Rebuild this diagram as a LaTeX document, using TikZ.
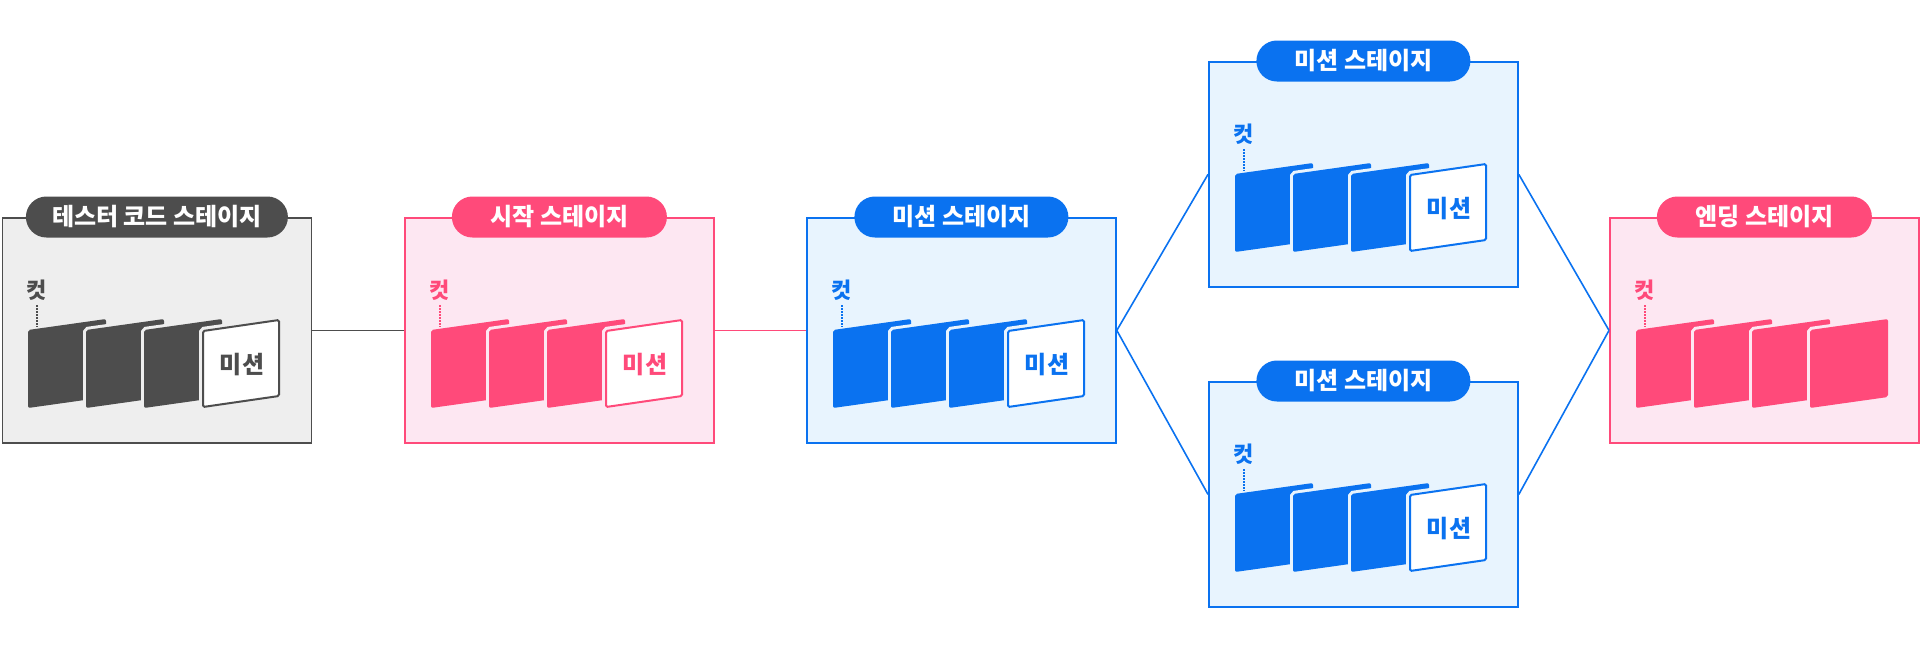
\documentclass[tikz,border=0pt]{standalone}
\usepackage{fontspec}
\newfontfamily\kr{Noto Sans CJK KR}
\definecolor{gdark}{HTML}{4D4D4D}
\definecolor{gbg}{HTML}{EEEEEE}
\definecolor{pk}{HTML}{FF4A7A}
\definecolor{pbg}{HTML}{FDE7F2}
\definecolor{bl}{HTML}{0A72F0}
\definecolor{bbg}{HTML}{E8F4FE}
\tikzset{
  stagebox/.style={draw, line width=1.8, minimum width=309, minimum height=225, anchor=north west, inner sep=0},
  pill/.style={rounded corners=20.5, minimum height=41, inner sep=0, text=white, font=\kr\bfseries\fontsize{24}{24}\selectfont},
  cutlabel/.style={font=\kr\bfseries\fontsize{22}{22}\selectfont, inner sep=0},
  misslabel/.style={font=\kr\bfseries\fontsize{24}{24}\selectfont, inner sep=0},
  link/.style={line width=1.6},
}
% #1 main colour, #2 background colour, #3 = 1 if last card is white
\newcommand{\cardrow}[3]{%
  \foreach \k in {0,1,2,3}{%
    \pgfmathsetmacro{\L}{27+58*\k}%
    \pgfmathsetmacro{\R}{105+58*\k}%
    \draw[#2, line width=6, rounded corners=2] (\L,113) -- (\R,102) -- (\R,180) -- (\L,191) -- cycle;
    \ifnum\k<3
      \fill[#1, rounded corners=2] (\L,113) -- (\R,102) -- (\R,180) -- (\L,191) -- cycle;
    \else
      \ifnum#3=1
        \draw[#1, fill=white, line width=2, rounded corners=1.5] (\L+1,114) -- (\R-1,103) -- (\R-1,179) -- (\L+1,190) -- cycle;
        \node[misslabel, text=#1] at (241,148) {미션};
      \else
        \fill[#1, rounded corners=2] (\L,113) -- (\R,102) -- (\R,180) -- (\L,191) -- cycle;
      \fi
    \fi
  }%
  \node[cutlabel, text=#1] at (36,73) {컷};
  \draw[#1, line width=1.5, dash pattern=on 1.5 off 1.5] (36,88) -- (36,110);
}
\begin{document}
\begin{tikzpicture}[x=1pt, y=-1pt]
\useasboundingbox (0,0) rectangle (1920,648);
% boxes
\node[stagebox, draw=gdark, fill=gbg] (b1) at (1.5,217) {};
\node[stagebox, draw=pk, fill=pbg] (b2) at (404,217) {};
\node[stagebox, draw=bl, fill=bbg] (b3) at (806,217) {};
\node[stagebox, draw=bl, fill=bbg] (b4) at (1208,61) {};
\node[stagebox, draw=bl, fill=bbg] (b5) at (1208,381) {};
\node[stagebox, draw=pk, fill=pbg] (b6) at (1609,217) {};
% connectors
\draw[link, gdark] (b1.east) -- (b2.west);
\draw[link, pk] (b2.east) -- (b3.west);
\draw[link, bl] (b3.east) -- (b4.west);
\draw[link, bl] (b3.east) -- (b5.west);
\draw[link, bl] (b4.east) -- (b6.west);
\draw[link, bl] (b5.east) -- (b6.west);
% pills
\node[pill, fill=gdark, minimum width=262] (p1) at (b1.north) {테스터 코드 스테이지};
\node[pill, fill=pk, minimum width=215] (p2) at (b2.north) {시작 스테이지};
\node[pill, fill=bl, minimum width=214] (p3) at (b3.north) {미션 스테이지};
\node[pill, fill=bl, minimum width=214] (p4) at (b4.north) {미션 스테이지};
\node[pill, fill=bl, minimum width=214] (p5) at (b5.north) {미션 스테이지};
\node[pill, fill=pk, minimum width=215] (p6) at (b6.north) {엔딩 스테이지};
% cards
\begin{scope}[shift={(1,217)}]\cardrow{gdark}{gbg}{1}\end{scope}
\begin{scope}[shift={(404,217)}]\cardrow{pk}{pbg}{1}\end{scope}
\begin{scope}[shift={(806,217)}]\cardrow{bl}{bbg}{1}\end{scope}
\begin{scope}[shift={(1208,61)}]\cardrow{bl}{bbg}{1}\end{scope}
\begin{scope}[shift={(1208,381)}]\cardrow{bl}{bbg}{1}\end{scope}
\begin{scope}[shift={(1609,217)}]\cardrow{pk}{pbg}{0}\end{scope}
\end{tikzpicture}
\end{document}
